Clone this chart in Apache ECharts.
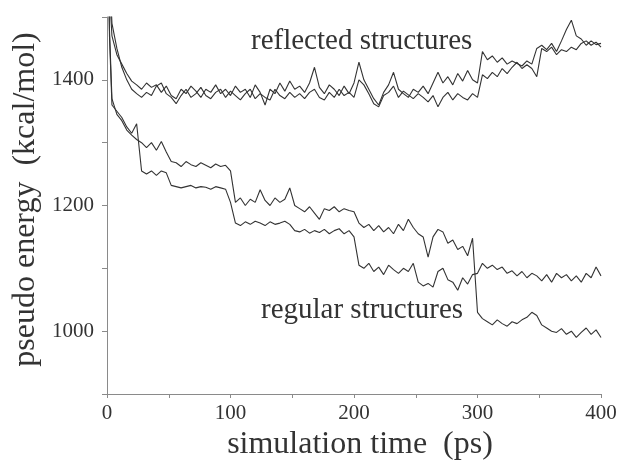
<!DOCTYPE html>
<html>
<head>
<meta charset="utf-8">
<script src="https://cdn.jsdelivr.net/npm/echarts@6/dist/echarts.min.js"></script>
<style>
html,body{margin:0;padding:0;background:#fff;}
#chart{width:618px;height:462px;}
</style>
</head>
<body>
<div id="chart"></div>
<script>
// simulation time (ps)
var time = [0, 1, 2, 4,
	8, 12, 16, 20, 24, 28, 32, 36, 40,
	44, 48, 52, 56, 60, 64, 68, 72, 76, 80,
	84, 88, 92, 96, 100, 104, 108, 112, 116, 120,
	124, 128, 132, 136, 140, 144, 148, 152, 156, 160,
	164, 168, 172, 176, 180, 184, 188, 192, 196, 200,
	204, 208, 212, 216, 220, 224, 228, 232, 236, 240,
	244, 248, 252, 256, 260, 264, 268, 272, 276, 280,
	284, 288, 292, 296, 300, 304, 308, 312, 316, 320,
	324, 328, 332, 336, 340, 344, 348, 352, 356, 360,
	364, 368, 372, 376, 380, 384, 388, 392, 396, 400];

// reflected structures (2 runs)
var refl1 = [1800, 1650, 1540, 1470,
	1440, 1425, 1410, 1398, 1392, 1385, 1395, 1388, 1392,
	1380, 1390, 1375, 1370, 1385, 1378, 1390, 1382, 1372, 1385,
	1380, 1392, 1378, 1385, 1375, 1390, 1380, 1385, 1372, 1392,
	1380, 1360, 1385, 1378, 1395, 1382, 1398, 1385, 1390, 1380,
	1395, 1420, 1388, 1378, 1392, 1385, 1375, 1390, 1378, 1395,
	1428, 1400, 1385, 1370, 1360, 1380, 1392, 1412, 1385, 1378,
	1372, 1385, 1380, 1390, 1378, 1395, 1412, 1395, 1405, 1392,
	1410, 1398, 1415, 1400, 1395, 1445, 1432, 1438, 1428, 1435,
	1425, 1430, 1426, 1422, 1430, 1425, 1450, 1455, 1448, 1458,
	1445, 1462, 1480, 1495, 1470, 1465, 1455, 1462, 1456, 1458];
var refl2 = [1800, 1700, 1580, 1490,
	1450, 1420, 1400, 1385, 1378, 1372, 1380, 1375, 1390,
	1395, 1378, 1372, 1362, 1375, 1385, 1372, 1378, 1388, 1375,
	1370, 1380, 1385, 1372, 1382, 1375, 1368, 1378, 1385, 1370,
	1378, 1372, 1368, 1385, 1375, 1370, 1380, 1372, 1378, 1370,
	1380, 1385, 1372, 1368, 1380, 1372, 1385, 1375, 1380, 1372,
	1400, 1392, 1378, 1362, 1357, 1375, 1380, 1390, 1372, 1382,
	1376, 1370, 1378, 1372, 1365, 1375, 1357, 1372, 1380, 1368,
	1378, 1372, 1368, 1378, 1372, 1408, 1402, 1412, 1405, 1418,
	1410, 1420, 1428, 1418, 1424, 1418, 1405, 1450, 1445, 1452,
	1440, 1448, 1445, 1452, 1448, 1458, 1462, 1455, 1460, 1452];

// regular structures (2 runs)
var reg1 = [1750, 1600, 1480, 1370,
	1345, 1335, 1320, 1312, 1305, 1300, 1292, 1300, 1288,
	1302, 1285, 1270, 1268, 1262, 1270, 1265, 1262, 1268, 1264,
	1260, 1266, 1262, 1264, 1255, 1205, 1212, 1200, 1210, 1205,
	1225, 1208, 1200, 1212, 1205, 1210, 1228, 1200, 1195, 1190,
	1198, 1188, 1178, 1195, 1192, 1198, 1190, 1195, 1192, 1190,
	1172, 1165, 1170, 1160, 1168, 1158, 1165, 1155, 1170, 1160,
	1178, 1165, 1155, 1150, 1118, 1150, 1162, 1158, 1140, 1145,
	1130, 1135, 1120, 1148, 1030, 1020, 1015, 1010, 1018, 1012,
	1008, 1015, 1012, 1018, 1022, 1030, 1025, 1010, 1005, 1000,
	998, 1004, 995, 1000, 990, 998, 1005, 995, 1002, 990];
var reg2 = [1750, 1600, 1470, 1360,
	1350, 1340, 1325, 1315, 1330, 1255, 1250, 1255, 1248,
	1255, 1252, 1232, 1230, 1228, 1230, 1232, 1228, 1230, 1229,
	1226, 1230, 1228, 1226, 1205, 1172, 1168, 1174, 1170, 1175,
	1172, 1168, 1174, 1170, 1172, 1175, 1170, 1160, 1158, 1162,
	1156, 1160, 1157, 1162, 1155, 1160, 1163, 1155, 1160, 1150,
	1105, 1100, 1108, 1095, 1102, 1090, 1105, 1098, 1092, 1100,
	1095, 1108, 1078, 1072, 1076, 1070, 1095, 1100, 1082, 1078,
	1065, 1085, 1075, 1090, 1092, 1108, 1100, 1105, 1098, 1102,
	1092, 1096, 1088, 1095, 1085, 1092, 1088, 1080, 1090, 1078,
	1092, 1085, 1090, 1080, 1088, 1078, 1092, 1085, 1102, 1088];

var yLabels = [1000, 1200, 1400];
var xLabels = [0, 100, 200, 300, 400];

function pairs(t, v){
	var out = [];
	for(var i=0;i<t.length;i++){
		out.push([t[i], v[i]]);
	}
	return out;
}

function lineSeries(v){
	return {
		type: 'line',
		data: pairs(time, v),
		showSymbol: false,
		clip: true,
		lineStyle: { color: '#333', width: 1.1 }
	};
}

var serif = '"Liberation Serif", "DejaVu Serif", serif';
var myChart = echarts.init(document.getElementById('chart'));
myChart.setOption({
	animation: false,
	backgroundColor: '#fff',
	grid: { left: 107, right: 17, top: 17, bottom: 68, outerBoundsMode: 'none', containLabel: false },
	xAxis: {
		type: 'value', min: 0, max: 400, interval: 50,
		name: 'simulation time  (ps)', nameLocation: 'middle', nameGap: 30,
		nameTextStyle: { fontFamily: serif, fontSize: 32, color: '#333', padding: [0, 0, 0, 12] },
		axisLine: { lineStyle: { color: '#8a8a8a', width: 1 } },
		axisTick: { inside: false, length: 4, lineStyle: { color: '#8a8a8a' } },
		axisLabel: {
			margin: 9, fontFamily: serif, fontSize: 21, color: '#333',
			formatter: function(v){ return xLabels.indexOf(v) >= 0 ? String(v) : ''; }
		},
		splitLine: { show: false }
	},
	yAxis: {
		type: 'value', min: 900, max: 1500, interval: 100,
		name: 'pseudo energy  (kcal/mol)', nameLocation: 'middle', nameGap: 64,
		nameTextStyle: { fontFamily: serif, fontSize: 32, color: '#333', padding: [0, 0, 0, 12] },
		axisLine: { show: true, lineStyle: { color: '#8a8a8a', width: 1 } },
		axisTick: { show: true, inside: false, length: 5, lineStyle: { color: '#8a8a8a' } },
		axisLabel: {
			margin: 13, fontFamily: serif, fontSize: 21, color: '#333',
			formatter: function(v){ return yLabels.indexOf(v) >= 0 ? String(v) : ''; }
		},
		splitLine: { show: false }
	},
	graphic: [
		{ type: 'text', left: 251, top: 27, style: { text: 'reflected structures', font: '29px ' + serif, fill: '#333' } },
		{ type: 'text', left: 261, top: 296, style: { text: 'regular structures', font: '29px ' + serif, fill: '#333' } }
	],
	series: [lineSeries(refl1), lineSeries(refl2), lineSeries(reg1), lineSeries(reg2)]
});
</script>
</body>
</html>
